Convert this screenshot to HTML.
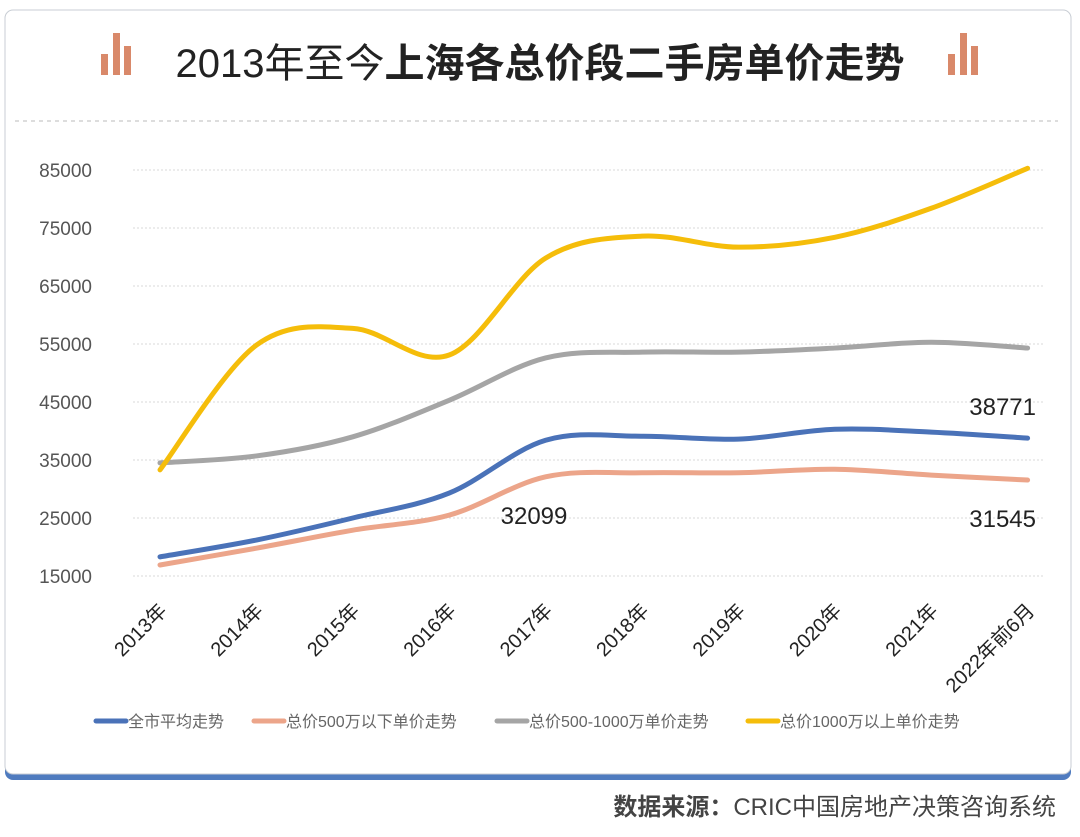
<!DOCTYPE html>
<html><head><meta charset="utf-8">
<style>
body{margin:0;width:1080px;height:832px;background:#fff;overflow:hidden;font-family:"Liberation Sans","Noto Sans CJK SC",sans-serif;}
svg text{font-family:"Liberation Sans","Noto Sans CJK SC",sans-serif;}
</style></head>
<body>
<svg width="1080" height="832">
<rect x="5" y="10" width="1066" height="770" rx="8" fill="#4f7bbf"/>
<rect x="5" y="10" width="1066" height="764" rx="8" fill="#fff" stroke="#c8cdd4" stroke-width="1"/>
<g fill="#d9896a">
<rect x="101" y="54" width="7" height="21"/><rect x="113" y="33" width="7" height="42"/><rect x="124" y="46" width="7" height="29"/></g>
<g fill="#d9896a">
<rect x="948" y="54" width="7" height="21"/><rect x="960" y="33" width="7" height="42"/><rect x="971" y="46" width="7" height="29"/></g>
<text x="540" y="77" text-anchor="middle" font-size="40" fill="#222"><tspan>2013年至今</tspan><tspan font-weight="bold">上海各总价段二手房单价走势</tspan></text>
<line x1="15" y1="121" x2="1058" y2="121" stroke="#bbb" stroke-dasharray="4,4"/>
<g id="grid"></g><g id="yt"></g><g id="xt"></g><g id="lines"></g>
<text x="534" y="524" text-anchor="middle" font-size="24" fill="#222">32099</text>
<text x="1036" y="415" text-anchor="end" font-size="24" fill="#222">38771</text>
<text x="1036" y="527" text-anchor="end" font-size="24" fill="#222">31545</text>
<g id="legend" font-size="16" fill="#666"></g>
<text x="1056" y="815" text-anchor="end" font-size="24" fill="#444"><tspan font-weight="bold">数据来源：</tspan>CRIC中国房地产决策咨询系统</text>
</svg>
<script>
const categories=["2013年","2014年","2015年","2016年","2017年","2018年","2019年","2020年","2021年","2022年前6月"];
const yTicks=[15000,25000,35000,45000,55000,65000,75000,85000];
const seriesNames=["全市平均走势","总价500万以下单价走势","总价500-1000万单价走势","总价1000万以上单价走势"];
const avgValues=[18300,21200,25000,29300,38400,39100,38600,40300,39800,38771];
const under500Values=[16900,19800,22900,25500,32099,32800,32800,33400,32400,31545];
const mid500to1000Values=[34500,35700,39000,45300,52600,53600,53600,54300,55300,54300];
const over1000Values=[33300,54800,57700,53100,69800,73600,71700,73400,78400,85300];
const colors=["#4a72b8","#eca58a","#a5a5a5","#f5bd0a"];
const NS="http://www.w3.org/2000/svg";
const x=i=>160+i*96.4;
const y=v=>576-(v-15000)*0.0058;
function mk(t,a,p){const e=document.createElementNS(NS,t);for(const k in a)e.setAttribute(k,a[k]);p.appendChild(e);return e;}
const grid=document.getElementById('grid'),yt=document.getElementById('yt'),xt=document.getElementById('xt'),lines=document.getElementById('lines'),lg=document.getElementById('legend');
yTicks.forEach(v=>{
 const l=mk('line',{x1:133,x2:1045,y1:y(v),y2:y(v),stroke:'#d8d8d8','stroke-dasharray':'2,2'},grid);
 
 
 const t=mk('text',{x:92,y:y(v)+7,'text-anchor':'end','font-size':19,fill:'#555'},yt);
 t.textContent=v;
 
 
});
categories.forEach((c,i)=>{
 const t=mk('text',{x:x(i)+8,y:612,'text-anchor':'end','font-size':20,fill:'#222',transform:`rotate(-45 ${x(i)+8} 612)`},xt);
 t.textContent=c;
 
 
});
function path(vals){
 const p=vals.map((v,i)=>[x(i),y(v)]);let d=`M${p[0][0]},${p[0][1]}`;
 for(let i=0;i<p.length-1;i++){const p0=p[Math.max(i-1,0)],p1=p[i],p2=p[i+1],p3=p[Math.min(i+2,p.length-1)];
  d+=` C${p1[0]+(p2[0]-p0[0])/6},${p1[1]+(p2[1]-p0[1])/6} ${p2[0]-(p3[0]-p1[0])/6},${p2[1]-(p3[1]-p1[1])/6} ${p2[0]},${p2[1]}`;}
 return d;}
[avgValues,under500Values,mid500to1000Values,over1000Values].forEach((vals,k)=>{
 const e=mk('path',{d:path(vals),fill:'none',stroke:colors[k],'stroke-width':5,'stroke-linecap':'round'},lines);
 
 
});
const lx=[96,254,497,748];
seriesNames.forEach((n,k)=>{
 const g=mk('g',{},lg);
 
 
 mk('line',{x1:lx[k],x2:lx[k]+30,y1:721,y2:721,stroke:colors[k],'stroke-width':5,'stroke-linecap':'round'},g);
 const t=mk('text',{x:lx[k]+32,y:727},g);t.textContent=n;
});
</script>
</body></html>
